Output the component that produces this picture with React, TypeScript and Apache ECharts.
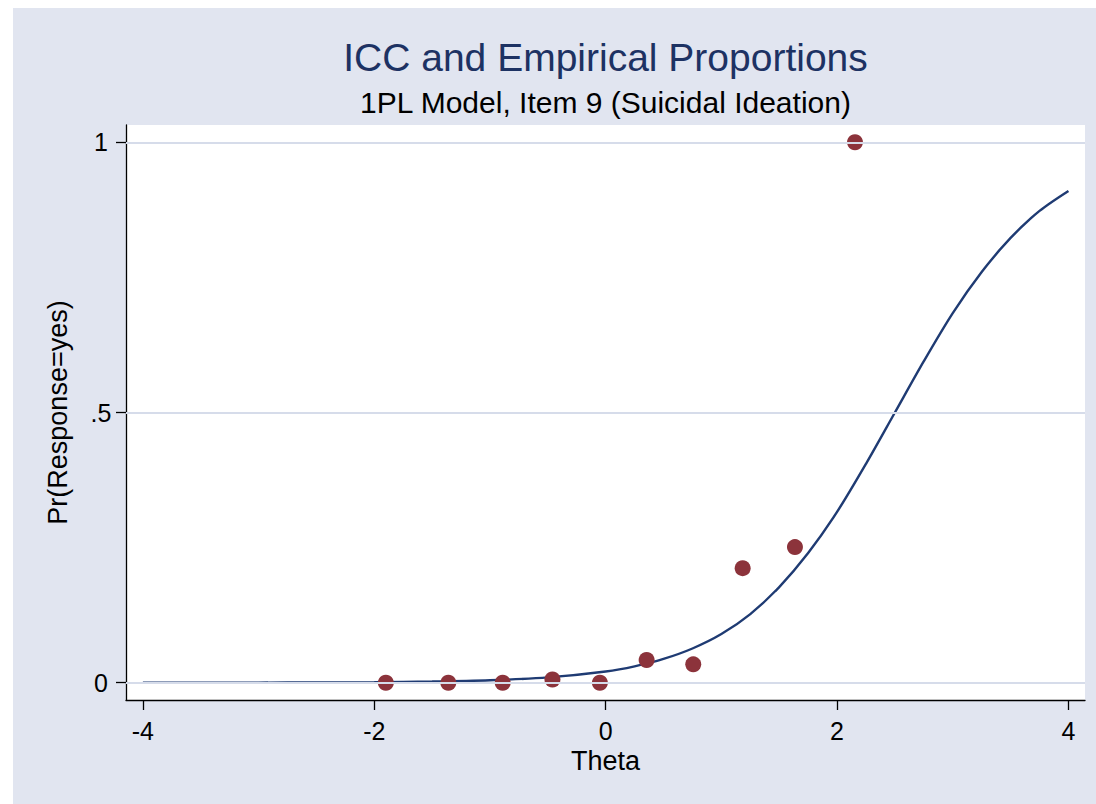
import React, { useEffect, useRef } from "react";
import * as echarts from "echarts";

// Empirical proportions (markers)
const empiricalTheta = [-1.9, -1.36, -0.89, -0.46, -0.05, 0.354, 0.757, 1.184, 1.636, 2.155];
const empiricalProp = [0.0, 0.0, 0.0, 0.006, 0.0, 0.042, 0.034, 0.212, 0.251, 1.0];

// ICC curve
const curveTheta = [-4, -3.5, -3, -2.5, -2, -1.5, -1, -0.5, 0, 0.25, 0.5, 0.75, 1, 1.25, 1.5, 1.75, 2, 2.25, 2.5, 2.75, 3, 3.25, 3.5, 3.75, 4];
const curveProb = [0.00004, 0.0001, 0.0002, 0.0005, 0.001, 0.0021, 0.0045, 0.0098, 0.0208, 0.0303, 0.044, 0.0633, 0.09, 0.127, 0.177, 0.24, 0.316, 0.405, 0.5, 0.595, 0.684, 0.76, 0.823, 0.873, 0.91];

// Tick labels
const xTicks = [-4, -2, 0, 2, 4];
const yTicks = [0, 0.5, 1];

const titleText = "ICC and Empirical Proportions";
const subtitleText = "1PL Model, Item 9 (Suicidal Ideation)";
const xName = "Theta";
const yName = "Pr(Response=yes)";

const FONT = "Liberation Sans, Arial, Helvetica, sans-serif";

export default function App() {
  const ref = useRef<HTMLDivElement>(null);

  useEffect(() => {
    if (!ref.current) return;
    const chart = echarts.init(ref.current, null, { renderer: "svg" });
    const option = {
      animation: false,
      backgroundColor: "#e1e5f0",
      title: [
        {
          text: titleText,
          left: 592.5,
          top: 30,
          padding: 0,
          textAlign: "center",
          textStyle: { fontSize: 39, fontWeight: "normal", color: "#1d3263", fontFamily: FONT },
        },
        {
          text: subtitleText,
          left: 592.5,
          top: 79,
          padding: 0,
          textAlign: "center",
          textStyle: { fontSize: 30, fontWeight: "normal", color: "#000", fontFamily: FONT },
        },
      ],
      grid: {
        left: 113,
        top: 117,
        right: 11,
        bottom: 104,
        show: true,
        backgroundColor: "#ffffff",
        borderWidth: 0,
      },
      xAxis: {
        type: "value",
        min: -4.146,
        max: 4.143,
        name: xName,
        nameLocation: "middle",
        nameGap: 44,
        nameTextStyle: { fontSize: 27, color: "#000", fontFamily: FONT },
        axisLine: { show: true, onZero: false, lineStyle: { color: "#000", width: 1.3 } },
        axisTick: { show: true, length: 10, customValues: xTicks, lineStyle: { color: "#000", width: 1.3 } },
        axisLabel: {
          customValues: xTicks,
          margin: 18,
          fontSize: 25,
          color: "#000",
          fontFamily: FONT,
          formatter: (v: number) => String(v),
        },
        splitLine: { show: false },
      },
      yAxis: {
        type: "value",
        min: -0.032,
        max: 1.032,
        name: yName,
        nameLocation: "middle",
        nameGap: 55,
        nameRotate: 90,
        nameTextStyle: { fontSize: 27, color: "#000", fontFamily: FONT },
        axisLine: { show: true, onZero: false, lineStyle: { color: "#000", width: 1.3 } },
        axisTick: { show: true, length: 10, customValues: yTicks, lineStyle: { color: "#000", width: 1.3 } },
        axisLabel: {
          customValues: yTicks,
          margin: 25,
          align: "center",
          fontSize: 25,
          color: "#000",
          fontFamily: FONT,
          formatter: (v: number) => String(v).replace(/^0\./, "."),
        },
        splitLine: { show: false },
      },
      series: [
        {
          type: "line",
          data: [],
          z: 1,
          silent: true,
          markLine: {
            silent: true,
            symbol: "none",
            label: { show: false },
            lineStyle: { color: "#d6dcea", width: 2, type: "solid", opacity: 1 },
            data: yTicks.map((v) => ({ yAxis: v })),
          },
        },
        {
          type: "line",
          z: 2,
          data: curveTheta.map((t, i) => [t, curveProb[i]]),
          smooth: 0.3,
          showSymbol: false,
          lineStyle: { color: "#1f3b73", width: 2.4 },
        },
        {
          type: "scatter",
          z: 3,
          data: empiricalTheta.map((t, i) => [t, empiricalProp[i]]),
          symbol: "circle",
          symbolSize: 16,
          itemStyle: { color: "#8c333b", opacity: 1 },
        },
      ],
    };
    chart.setOption(option as any);
    return () => chart.dispose();
  }, []);

  return (
    <div
      ref={ref}
      style={{ position: "fixed", left: 13, top: 8, width: 1083, height: 796 }}
    />
  );
}
